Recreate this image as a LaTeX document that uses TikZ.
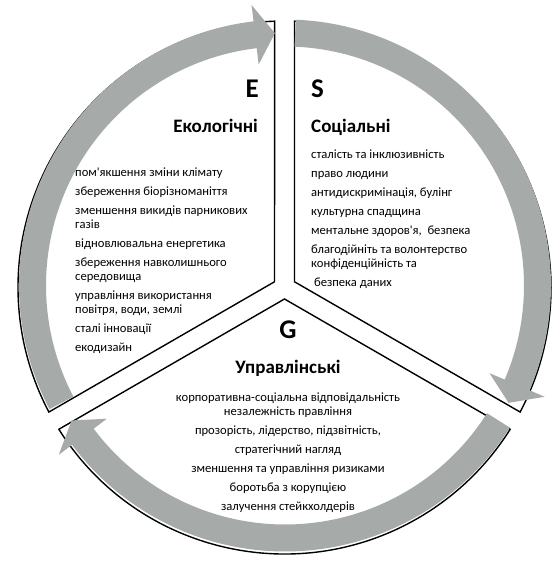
\documentclass[tikz,border=0pt]{standalone}
\usepackage{fontspec}
\setmainfont{Carlito}
\usetikzlibrary{positioning}

\definecolor{arcgray}{RGB}{166,171,169}

\tikzset{
  segment/.style={fill=white, draw=black, line width=1.4pt},
  band/.style={fill=arcgray},
  letter/.style={font=\fontsize{27}{32}\selectfont\bfseries, inner sep=0pt},
  heading/.style={font=\fontsize{19}{22}\selectfont\bfseries, inner sep=0pt},
  items/.style={font=\fontsize{12.6}{14}\selectfont, inner sep=0pt},
}

\begin{document}
\begin{tikzpicture}[x=1pt, y=1pt]
  \useasboundingbox (0,0) rectangle (558,561);

  % three segments, pushed out from the middle
  \begin{scope}[shift={(284.5,273.5)}]
    \draw[segment] (150:11.5pt) -- (92.14:266.5pt)
      arc[start angle=92.14, end angle=207.86, radius=266.5pt] -- cycle;
    \draw[segment] (30:11.5pt) -- (-27.86:266.5pt)
      arc[start angle=-27.86, end angle=87.86, radius=266.5pt] -- cycle;
    \draw[segment] (270:11.5pt) -- (212.14:266.5pt)
      arc[start angle=212.14, end angle=327.86, radius=266.5pt] -- cycle;
  \end{scope}

  % curved arrows round the rim
  \begin{scope}[shift={(285,275.5)}]
    \foreach \tail/\tip in {207.7/92.3, 87.7/-27.7, -32.3/-147.7}{
      \pgfmathsetmacro\headang{\tip+4.5}
      \fill[band] (\tail:266pt) arc[start angle=\tail, end angle=\headang, radius=266pt]
        -- (\headang:282.5pt) -- (\tip:252.5pt) -- (\headang:222.5pt) -- (\headang:239pt)
        arc[start angle=\headang, end angle=\tail, radius=239pt] -- cycle;
    }
  \end{scope}

  % E
  \node[letter, anchor=base east] (eletter) at (259,463.5) {E};
  \node[heading, anchor=base east] (ehead) at (258,428) {Екологічні};
  \node[items, anchor=north west, align=left] (elist) at (75,393.5) {%
    пом\textquotesingle{}якшення зміни клімату\\[5pt]
    збереження біорізноманіття\\[5pt]
    зменшення викидів парникових\\
    газів\\[5pt]
    відновлювальна енергетика\\[5pt]
    збереження навколишнього\\
    середовища\\[5pt]
    управління використання\\
    повітря, води, землі\\[5pt]
    сталі інновації\\[5pt]
    екодизайн};

  % S
  \node[letter, anchor=base west] (sletter) at (311,463.5) {S};
  \node[heading, anchor=base west] (shead) at (311,428) {Соціальні};
  \node[items, anchor=north west, align=left] (slist) at (311,411.5) {%
    сталість та інклюзивність\\[5pt]
    право людини\\[5pt]
    антидискримінація, булінг\\[5pt]
    культурна спадщина\\[5pt]
    ментальне здоров\textquotesingle{}я,~ безпека\\[5pt]
    благодійніть та волонтерство\\
    конфіденційність та\\[5pt]
    \ безпека даних};

  % G
  \node[letter, anchor=base] (gletter) at (288,222.5) {G};
  \node[heading, anchor=base] (ghead) at (288,187) {Управлінські};
  \node[items, anchor=north, align=center] (glist) at (288,168.5) {%
    корпоративна-соціальна відповідальність\\
    незалежність правління\\[5pt]
    прозорість, лідерство, підзвітність,\\[5pt]
    стратегічний нагляд\\[5pt]
    зменшення та управління ризиками\\[5pt]
    боротьба з корупцією\\[5pt]
    залучення стейкхолдерів};
\end{tikzpicture}
\end{document}
